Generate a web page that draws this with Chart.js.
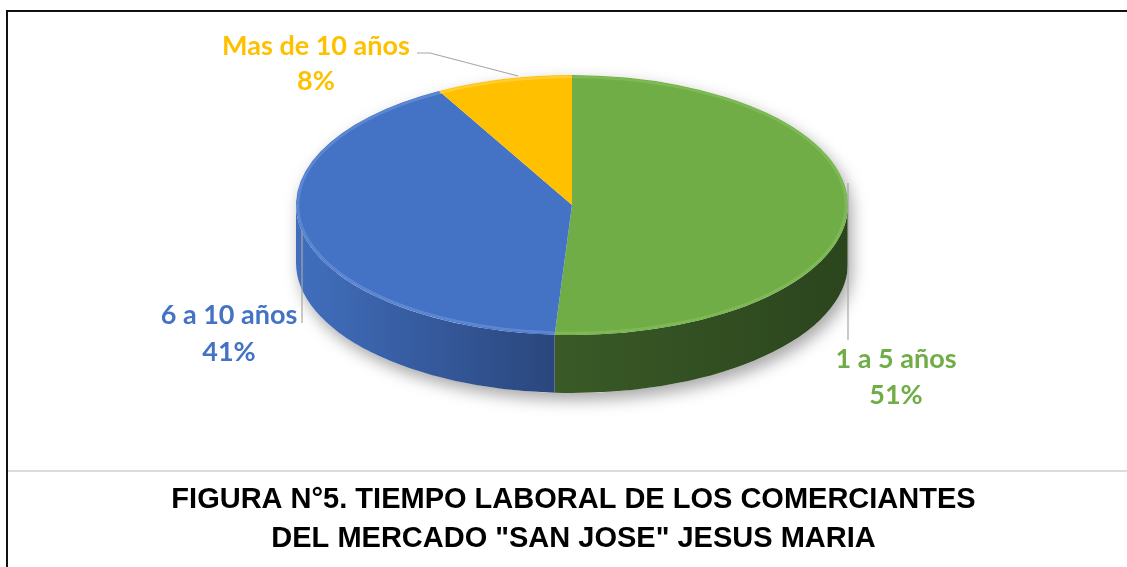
<!DOCTYPE html>
<html><head><meta charset="utf-8">
<script src="https://cdn.jsdelivr.net/npm/chart.js@4/dist/chart.umd.min.js"></script>
<style>
html,body{margin:0;padding:0;background:#fff;}
#wrap{position:relative;width:1127px;height:567px;overflow:hidden;}
#frame{position:absolute;left:6px;top:10px;width:1130px;height:570px;border-top:2px solid #111;border-left:2px solid #111;}
#sep{position:absolute;left:8px;top:470px;width:1119px;height:2px;background:#dcdcdc;}
canvas{position:absolute;left:0;top:0;}
</style></head><body>
<div id="wrap"><div id="frame"></div><div id="sep"></div><canvas id="c" width="1127" height="567"></canvas></div>
<script>
// ---- data ----
const categories = ['1 a 5 años', '6 a 10 años', 'Mas de 10 años'];
const values = [51, 41, 8];
const percentLabels = ['51%', '41%', '8%'];
const topColors = ['#70AD47', '#4472C4', '#FFC000'];
const sideLeftColors = ['#3a5a27', '#416fbe', '#b08400'];
const sideRightColors = ['#2b451d', '#2a467d', '#8a6700'];
const rimColors = ['#86c25c', '#6a93dc', '#ffd24d'];
const titleLines = ['FIGURA N°5. TIEMPO LABORAL DE LOS COMERCIANTES', 'DEL MERCADO "SAN JOSE" JESUS MARIA'];

// ---- view / layout ----
const VIEW = { cx: 572, cy: 205, rx: 276, ry: 130, depth: 58 };
const LABEL_LAYOUT = [
  { x: 896, y1: 359, y2: 395, line: [[848, 183], [848, 340]] },
  { x: 229, y1: 315, y2: 352, line: [[302, 231], [302, 323]] },
  { x: 316, y1: 46, y2: 81, line: [[417, 53], [430, 53], [518, 76]] }
];
const LABEL_FONT = 'bold 27px Lato, "Open Sans", sans-serif';

const pie3d = {
  id: 'pie3d',
  beforeDatasetsDraw(chart) {
    const ctx = chart.ctx, v = VIEW;
    const meta = chart.getDatasetMeta(0);
    // shadow silhouette
    ctx.save();
    ctx.beginPath();
    ctx.ellipse(v.cx, v.cy, v.rx, v.ry, 0, Math.PI, 2 * Math.PI);
    ctx.lineTo(v.cx + v.rx, v.cy + v.depth);
    ctx.ellipse(v.cx, v.cy + v.depth, v.rx, v.ry, 0, 0, Math.PI);
    ctx.closePath();
    ctx.shadowColor = 'rgba(0,0,0,0.35)';
    ctx.shadowBlur = 16;
    ctx.shadowOffsetX = 4;
    ctx.shadowOffsetY = 7;
    ctx.fillStyle = '#fff';
    ctx.fill();
    ctx.restore();
    // side walls
    meta.data.forEach((el, i) => {
      const s = Math.max(el.startAngle, 0);
      const e = Math.min(el.endAngle, Math.PI);
      if (e <= s) return;
      const xa = v.cx + v.rx * Math.cos(s), xb = v.cx + v.rx * Math.cos(e);
      const g = ctx.createLinearGradient(Math.min(xa, xb), 0, Math.max(xa, xb), 0);
      g.addColorStop(0, sideLeftColors[i]);
      g.addColorStop(1, sideRightColors[i]);
      ctx.save();
      ctx.beginPath();
      ctx.ellipse(v.cx, v.cy, v.rx, v.ry, 0, s, e);
      ctx.ellipse(v.cx, v.cy + v.depth, v.rx, v.ry, 0, e, s, true);
      ctx.closePath();
      ctx.fillStyle = g;
      ctx.fill();
      ctx.restore();
    });
    // top face transform (library arcs are drawn inside this transform)
    const el0 = meta.data[0];
    const R0 = el0.outerRadius;
    ctx.save();
    ctx.translate(v.cx, v.cy);
    ctx.scale(v.rx / R0, v.ry / R0);
    ctx.translate(-el0.x, -el0.y);
  },
  afterDatasetsDraw(chart) {
    const ctx = chart.ctx, v = VIEW;
    ctx.restore();
    const meta = chart.getDatasetMeta(0);
    // rim highlight
    meta.data.forEach((el, i) => {
      ctx.save();
      ctx.beginPath();
      ctx.ellipse(v.cx, v.cy, v.rx - 2, v.ry - 2, 0, el.startAngle, el.endAngle);
      ctx.strokeStyle = rimColors[i];
      ctx.lineWidth = 2.5;
      ctx.globalAlpha = 0.65;
      ctx.stroke();
      ctx.restore();
    });
    // leader lines and labels
    ctx.save();
    ctx.font = LABEL_FONT;
    ctx.textAlign = 'center';
    ctx.textBaseline = 'middle';
    LABEL_LAYOUT.forEach((L, i) => {
      ctx.beginPath();
      L.line.forEach((p, k) => k ? ctx.lineTo(p[0], p[1]) : ctx.moveTo(p[0], p[1]));
      ctx.strokeStyle = '#a6a6a6';
      ctx.lineWidth = 1.2;
      ctx.stroke();
      ctx.fillStyle = topColors[i];
      ctx.fillText(categories[i], L.x, L.y1);
      ctx.fillText(percentLabels[i], L.x, L.y2);
    });
    ctx.restore();
  }
};

new Chart(document.getElementById('c'), {
  type: 'pie',
  data: {
    labels: categories,
    datasets: [{ data: values, backgroundColor: topColors, borderWidth: 0, clip: false }]
  },
  options: {
    responsive: false,
    animation: false,
    events: [],
    layout: { padding: { top: 10, bottom: 0, left: 20 } },
    plugins: {
      legend: { display: false },
      tooltip: { enabled: false },
      title: {
        display: true,
        position: 'bottom',
        text: titleLines,
        color: '#000',
        font: { family: '"Liberation Sans", Arial, sans-serif', size: 29, weight: 'bold', lineHeight: 1.345 },
        padding: { top: 10, bottom: 8 }
      }
    }
  },
  plugins: [pie3d]
});
</script>
</body></html>
